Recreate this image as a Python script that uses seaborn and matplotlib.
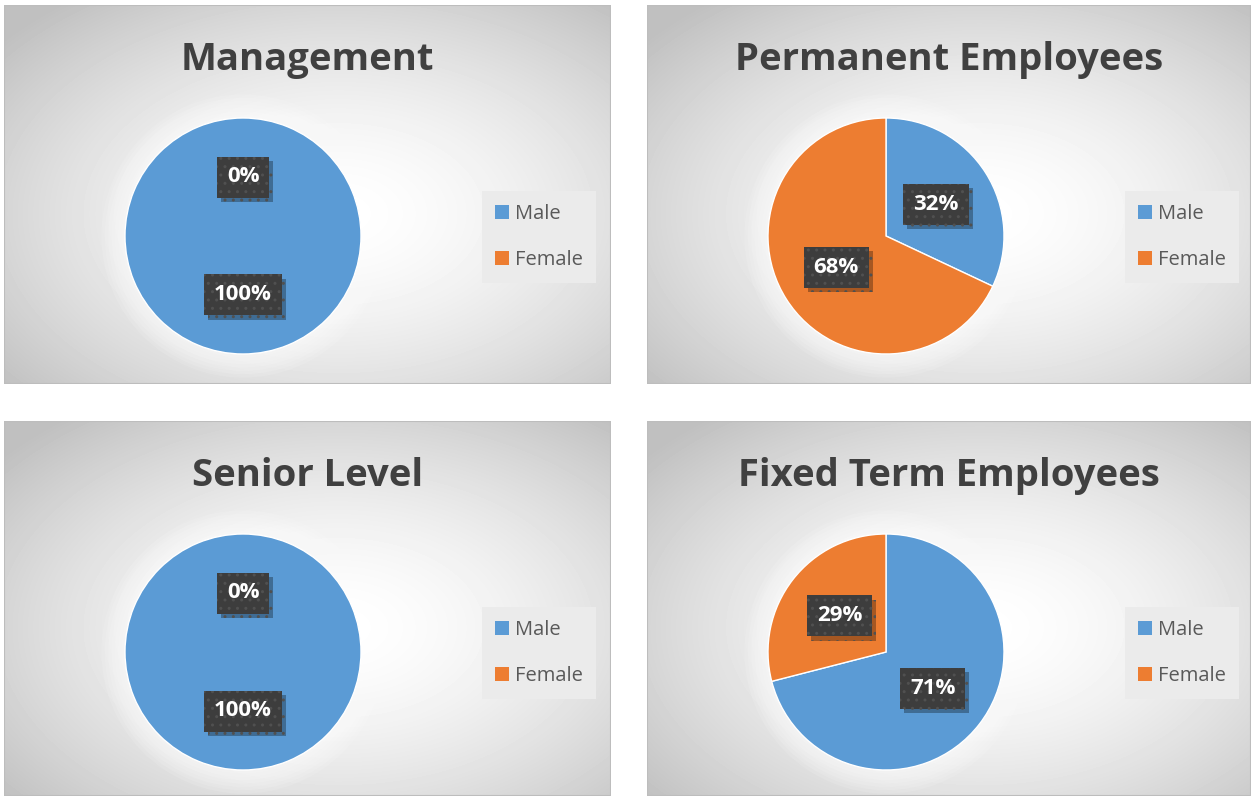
import numpy as np
import matplotlib.pyplot as plt
import seaborn as sns
from matplotlib.patches import Patch, Circle, Rectangle
from matplotlib import patheffects

# Chart data
titles = ["Management", "Permanent Employees", "Senior Level", "Fixed Term Employees"]
genders = ["Male", "Female"]
male_share = [100, 32, 100, 71]
female_share = [0, 68, 0, 29]

sns.set_style("white")
plt.rcParams['font.family'] = ['Open Sans', 'DejaVu Sans']
colors = ["#5b9bd5", "#ed7d31"]

W, H = 1251, 796
fig = plt.figure(figsize=(W / 100, H / 100), dpi=100)

# panel boxes in pixels: x0, y0, x1, y1 (top-left origin)
panels = [(4, 5, 611, 384), (647, 5, 1251, 384), (4, 421, 611, 796), (647, 421, 1251, 796)]


def px_axes(x0, y0, x1, y1):
    return fig.add_axes([x0 / W, 1 - y1 / H, (x1 - x0) / W, (y1 - y0) / H])


def radial_bg(nx, ny):
    yy, xx = np.mgrid[0:ny, 0:nx]
    d = np.sqrt(((xx / nx - 0.55)) ** 2 + ((yy / ny - 0.55)) ** 2) / 0.72
    return 1 - 0.25 * np.clip(d, 0, 1) ** 1.6


for i, (x0, y0, x1, y1) in enumerate(panels):
    # background with radial gradient
    bg = px_axes(x0, y0, x1, y1)
    bg.imshow(radial_bg(x1 - x0, y1 - y0), cmap="gray", vmin=0, vmax=1,
              extent=[0, 1, 0, 1], aspect="auto", interpolation="bilinear")
    bg.add_patch(Rectangle((0, 0), 1, 1, transform=bg.transAxes, fill=False,
                           edgecolor="#bdbdbd", linewidth=1.5))
    bg.axis("off")

    fig.text((x0 + x1) / 2 / W, 1 - (y0 + 65) / H, titles[i], ha="center", va="baseline",
             fontsize=27.5, fontweight="bold", color="#404040")

    # pie
    ax = px_axes(x0 + 121, y0 + 113, x0 + 357, y0 + 349)
    for r in np.linspace(1.2, 1.0, 8):
        ax.add_patch(Circle((0, 0), r, facecolor="white", edgecolor="none", alpha=0.12,
                            zorder=0, clip_on=False))
    vals = [male_share[i], female_share[i]]
    wedges, _, autotexts = ax.pie(vals, colors=colors, startangle=90, counterclock=False,
                                  autopct="%.0f%%", pctdistance=0.5,
                                  wedgeprops=dict(edgecolor="white", linewidth=1))
    for w, v in zip(wedges, vals):
        if v == 0:
            w.set_linewidth(0)
    for t in autotexts:
        t.set_color("white")
        t.set_fontsize(16)
        t.set_fontweight("bold")
        t.set_zorder(5)
        t.set_bbox(dict(boxstyle="square,pad=0.45", facecolor="#3d3d3d",
                        edgecolor="#505050", linewidth=0, hatch=".."))
        t.get_bbox_patch().set_path_effects([
            patheffects.SimplePatchShadow(offset=(3, -3), shadow_rgbFace="black", alpha=0.3),
            patheffects.Normal()])
    ax.set_xlim(-1, 1)
    ax.set_ylim(-1, 1)

    handles = [Patch(facecolor=c, edgecolor="none") for c in colors]
    ax.legend(handles, genders, loc="upper left",
              bbox_to_anchor=((x0 + 478) / W, 1 - (y0 + 186) / H), bbox_transform=fig.transFigure,
              frameon=True, facecolor="#ebebeb", edgecolor="none", fancybox=False, framealpha=1,
              fontsize=14.5, labelcolor="#595959", handlelength=0.7, handleheight=0.7,
              handletextpad=0.3, labelspacing=1.3, borderpad=0.65, borderaxespad=0)

plt.savefig("out.png", dpi=100)
